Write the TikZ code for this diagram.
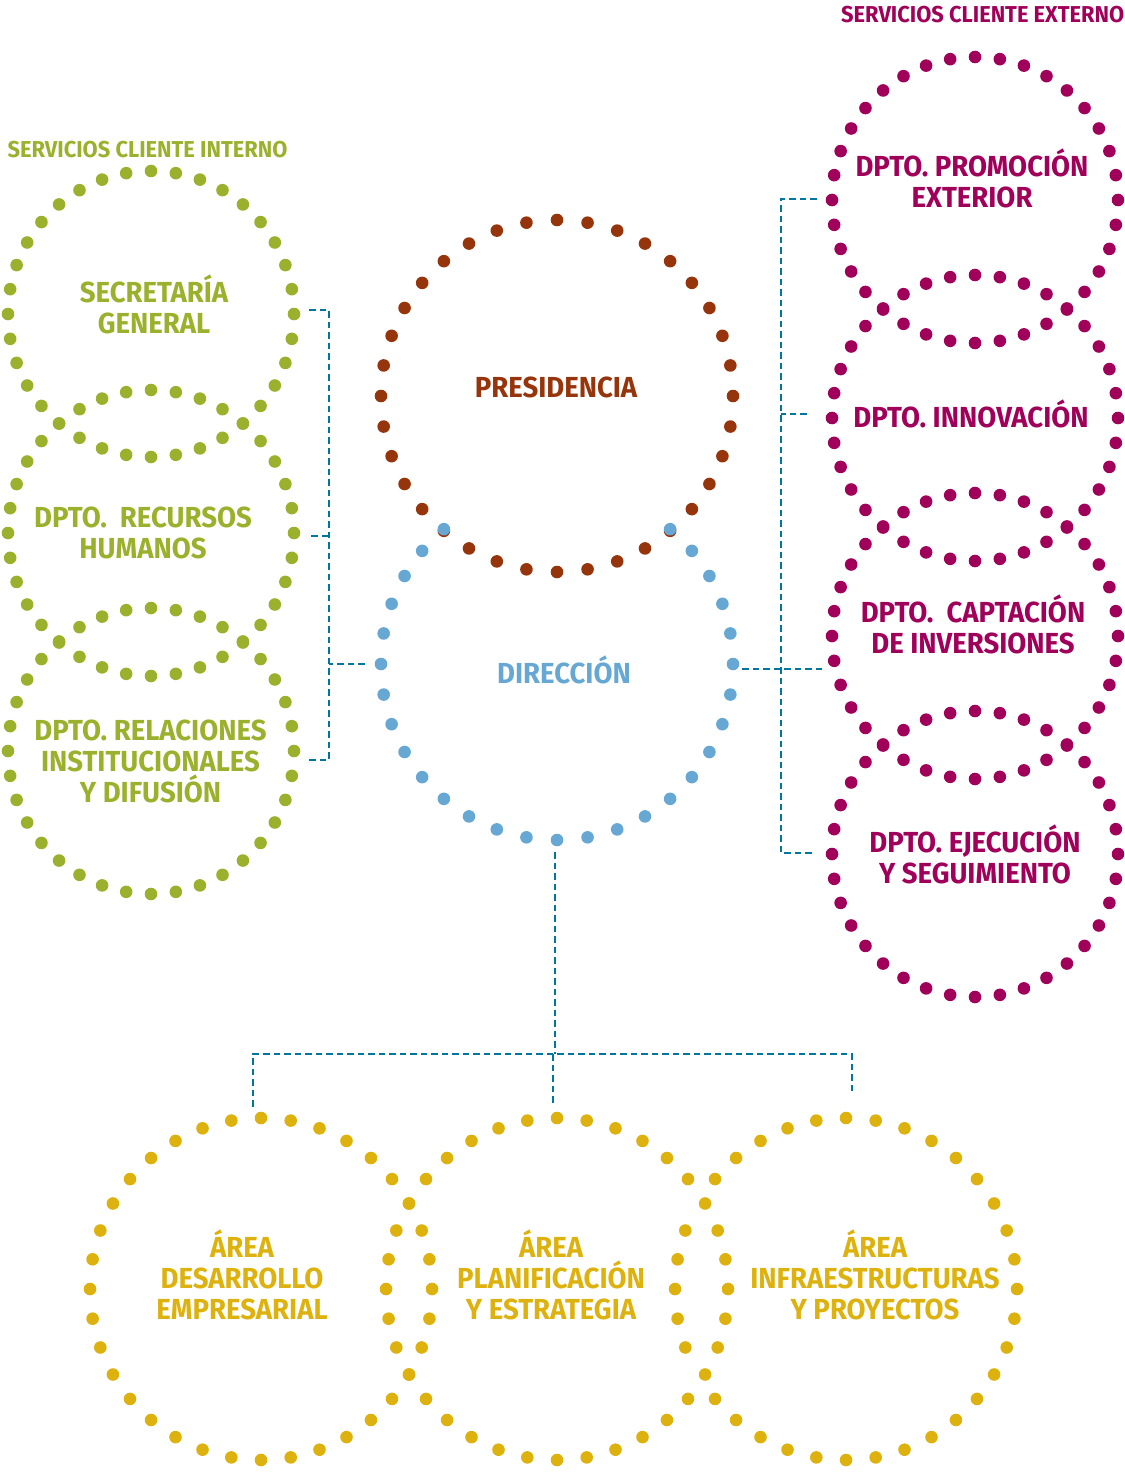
\documentclass[tikz,border=0pt]{standalone}
\usepackage{fontspec}
\setmainfont{Fira Sans}[FakeStretch=0.95]
\usetikzlibrary{calc}
\definecolor{cgreen}{RGB}{155,177,45}
\definecolor{cbrown}{RGB}{150,52,12}
\definecolor{cblue}{RGB}{102,168,211}
\definecolor{cpurple}{RGB}{160,0,90}
\definecolor{cyellow}{RGB}{222,178,14}
\definecolor{cline}{RGB}{0,117,160}
\newcommand\dotring[4]{%
  \foreach \a in {#4} \fill[#3] ($(#1)+(\a:#2)$) circle (6.3pt);}
\begin{document}
\begin{tikzpicture}[x=1pt,y=-1pt,
  ring/.style={circle,minimum size=#1,inner sep=0pt,draw=none},
  lbl/.style={font=\bfseries\fontsize{29}{31}\selectfont,align=center,anchor=base,inner sep=0pt},
  ttl/.style={font=\bfseries\fontsize{23}{25}\selectfont,anchor=base,inner sep=0pt},
  conn/.style={draw=cline,line width=2.6pt,dash pattern=on 6.5pt off 4pt}]
\useasboundingbox (0,0) rectangle (1124,1479);

% ring nodes
\node[ring=286] (sec) at (151,314) {};
\node[ring=286] (hr) at (151,533) {};
\node[ring=286] (rel) at (151,751) {};
\node[ring=286] (promo) at (975,200) {};
\node[ring=286] (innov) at (975,418) {};
\node[ring=286] (capt) at (975,636) {};
\node[ring=286] (ejec) at (975,854) {};
\node[ring=352] (pres) at (557,396) {};
\node[ring=352] (dir) at (557,664) {};
\node[ring=342] (ades) at (261,1289) {};
\node[ring=342] (apla) at (557,1289) {};
\node[ring=342] (ainf) at (846,1289) {};

% dots
\dotring{sec}{143}{cgreen}{0,10,...,350}
\dotring{hr}{143}{cgreen}{0,10,...,350}
\dotring{rel}{143}{cgreen}{0,10,...,350}
\dotring{promo}{143}{cpurple}{0,10,...,350}
\dotring{innov}{143}{cpurple}{0,10,...,350}
\dotring{capt}{143}{cpurple}{0,10,...,350}
\dotring{ejec}{143}{cpurple}{0,10,...,350}
\dotring{ades}{171}{cyellow}{0,10,...,350}
\dotring{apla}{171}{cyellow}{0,10,...,350}
\dotring{ainf}{171}{cyellow}{0,10,...,140,160,170,...,200,220,230,...,350}
\dotring{pres}{176}{cbrown}{0,10,...,350}
\dotring{dir}{176}{cblue}{0,10,...,230,310,320,...,350}

% titles
\node[ttl,text=cgreen] (tint) at (147.5,158) {SERVICIOS CLIENTE INTERNO};
\node[ttl,text=cpurple,anchor=base west] (text) at (841,23) {SERVICIOS CLIENTE EXTERNO};

% labels (anchor = baseline of last line)
\node[lbl,text=cgreen] (secT) at (154,333) {SECRETARÍA\\GENERAL};
\node[lbl,text=cgreen] (hrT) at (143,558) {DPTO.\ \ RECURSOS\\HUMANOS};
\node[lbl,text=cgreen] (relT) at (150.5,802) {DPTO. RELACIONES\\INSTITUCIONALES\\Y DIFUSIÓN};
\node[lbl,text=cbrown] (presT) at (556,397) {PRESIDENCIA};
\node[lbl,text=cblue] (dirT) at (564,683) {DIRECCIÓN};
\node[lbl,text=cpurple] (promoT) at (972,208) {DPTO. PROMOCIÓN\\EXTERIOR};
\node[lbl,text=cpurple] (innovT) at (971,427) {DPTO. INNOVACIÓN};
\node[lbl,text=cpurple] (captT) at (973,653) {DPTO.\ \ CAPTACIÓN\\DE INVERSIONES};
\node[lbl,text=cpurple] (ejecT) at (975,883) {DPTO. EJECUCIÓN\\Y SEGUIMIENTO};
\node[lbl,text=cyellow] (adesT) at (242,1319) {ÁREA\\DESARROLLO\\EMPRESARIAL};
\node[lbl,text=cyellow] (aplaT) at (551,1319) {ÁREA\\PLANIFICACIÓN\\Y ESTRATEGIA};
\node[lbl,text=cyellow] (ainfT) at (875,1319) {ÁREA\\INFRAESTRUCTURAS\\Y PROYECTOS};

% connector end points
\coordinate (secR) at ([xshift=15pt,yshift=4pt]sec.east);
\coordinate (hrR) at ([xshift=17pt,yshift=-3pt]hr.east);
\coordinate (relR) at ([xshift=12pt,yshift=-9pt]rel.east);
\coordinate (dirL) at ([xshift=-16pt]dir.west);
\coordinate (LB) at (329,760);
\coordinate (promoL) at ([xshift=-15pt,yshift=1pt]promo.west);
\coordinate (innovL) at ([xshift=-25pt,yshift=4pt]innov.west);
\coordinate (captL) at ([xshift=-9pt,yshift=-33pt]capt.west);
\coordinate (ejecL) at ([xshift=-20pt,yshift=1pt]ejec.west);
\coordinate (dirR) at ([xshift=9pt,yshift=-5pt]dir.east);
\coordinate (RB) at (781,853);
\coordinate (dirB) at ([xshift=-2pt,yshift=-12pt]dir.south);
\coordinate (BJ) at (555,1054);
\coordinate (adesN) at ([xshift=-8pt,yshift=11pt]ades.north);
\coordinate (aplaN) at ([xshift=-4pt,yshift=14pt]apla.north);
\coordinate (ainfN) at ([xshift=6pt,yshift=26pt]ainf.north);

% connectors
\draw[conn] (secR) -| (LB) -- (relR);
\draw[conn] (hrR) -- (hrR -| LB);
\draw[conn] (dirL) -- (dirL -| LB);
\draw[conn] (promoL) -| (RB) -- (ejecL);
\draw[conn] (innovL) -- (innovL -| RB);
\draw[conn] (dirR) -- (captL);
\draw[conn] (dirB) -- (BJ);
\draw[conn] (adesN) |- (BJ) -| (ainfN);
\draw[conn] (BJ -| aplaN) -- (aplaN);
\end{tikzpicture}
\end{document}
